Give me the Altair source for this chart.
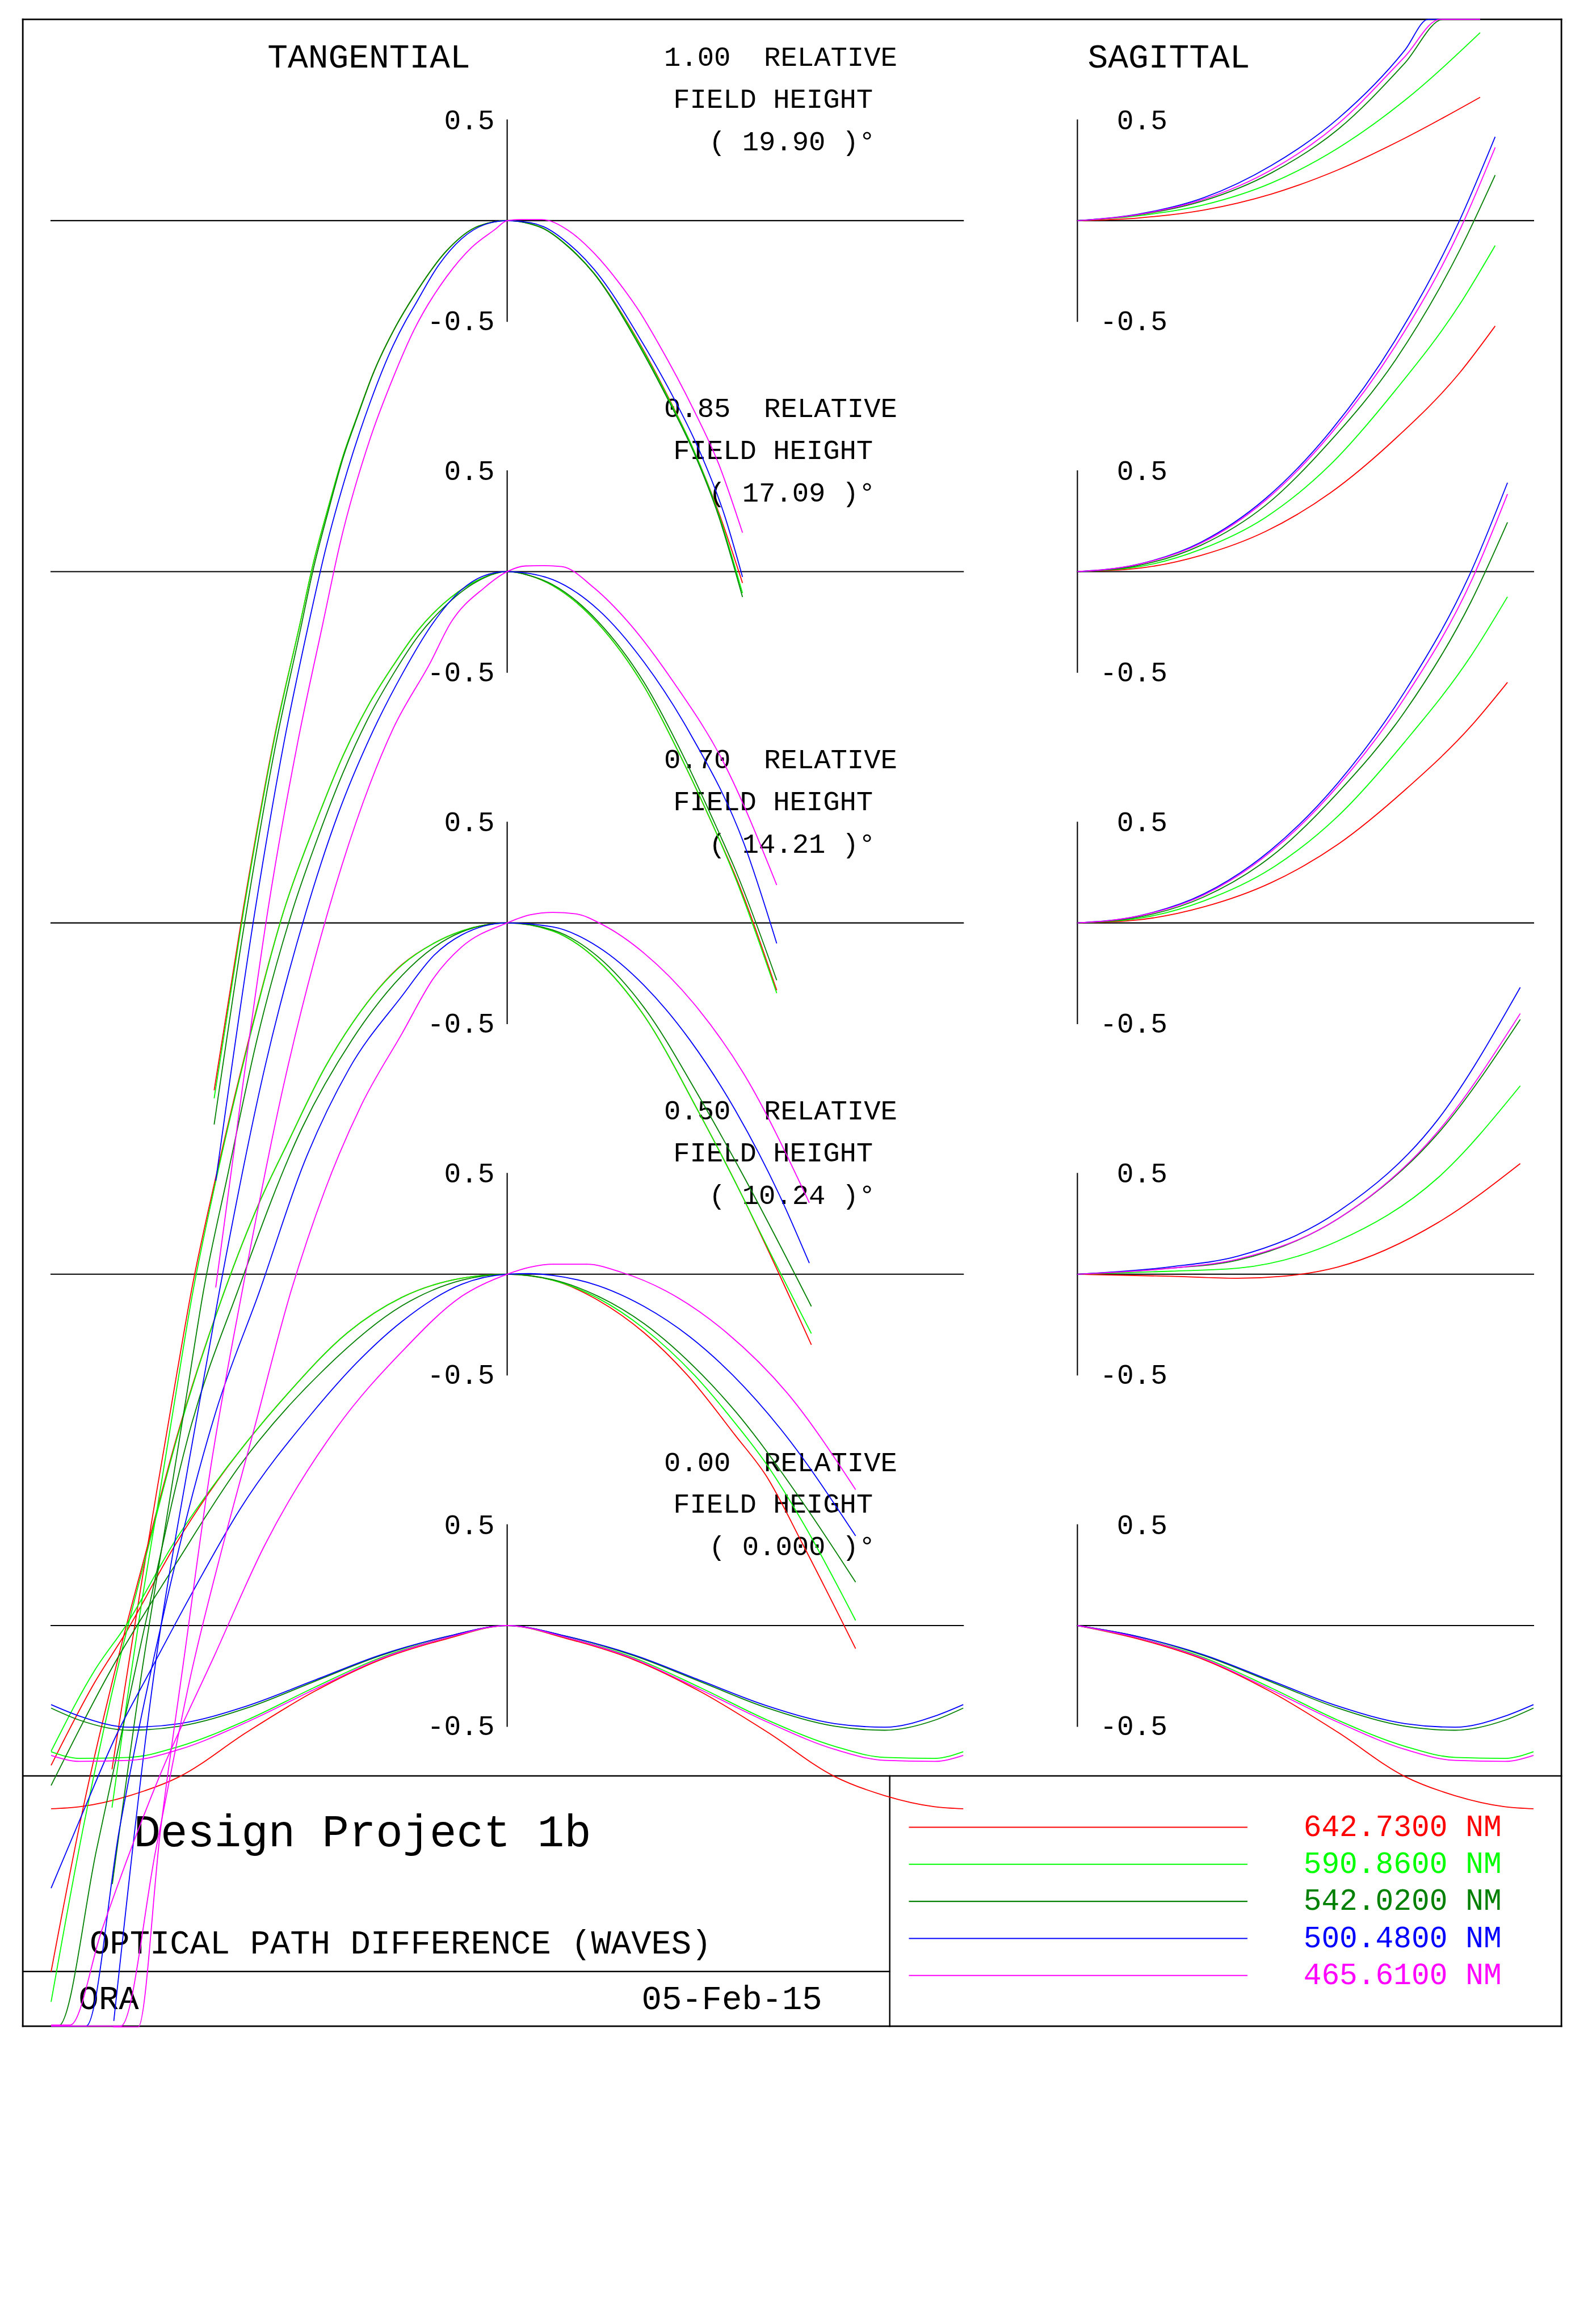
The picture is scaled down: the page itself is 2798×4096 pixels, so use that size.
import altair as alt
import pandas as pd

# ---------------- text content ----------------
TITLE_TAN = "TANGENTIAL"
TITLE_SAG = "SAGITTAL"
FIELD_REL = ["1.00", "0.85", "0.70", "0.50", "0.00"]
FIELD_ANG = ["19.90", "17.09", "14.21", "10.24", "0.000"]
TICK_TEXT = ["0.5", "-0.5"]
TICK_VALUES = [0.5, -0.5]
WAVES = ["642.7300 NM", "590.8600 NM", "542.0200 NM", "500.4800 NM", "465.6100 NM"]
COLORS = ["#ff0000", "#00ff00", "#008000", "#0000ff", "#ff00ff"]
PROJECT = "Design Project 1b"
QUANTITY = "OPTICAL PATH DIFFERENCE (WAVES)"
AUTHOR = "ORA"
DATE = "05-Feb-15"

# ---------------- OPD curves: (relative pupil, waves) ----------------
# field 1.00 tangential
T1_RED = [(-0.6425,-4.32),(-0.578,-3.41),(-0.509,-2.55),(-0.454,-2.0),(-0.426,-1.71),(-0.393,-1.43),(-0.36,-1.17),(-0.327,-0.96),(-0.294,-0.76),(-0.243,-0.52),(-0.204,-0.372),(-0.133,-0.15),(-0.063,-0.027),(0,0),(0.05,-0.015),(0.08,-0.039),(0.135,-0.13),(0.19,-0.26),(0.283,-0.58),(0.354,-0.88),(0.409,-1.14),(0.464,-1.45),(0.516,-1.80)]
T1_GRN = [(-0.6425,-4.36),(-0.578,-3.43),(-0.509,-2.56),(-0.454,-2.0),(-0.426,-1.71),(-0.393,-1.43),(-0.36,-1.17),(-0.327,-0.96),(-0.294,-0.76),(-0.243,-0.52),(-0.204,-0.372),(-0.133,-0.15),(-0.063,-0.027),(0,0),(0.05,-0.015),(0.08,-0.039),(0.135,-0.13),(0.19,-0.26),(0.283,-0.585),(0.354,-0.885),(0.409,-1.14),(0.464,-1.46),(0.516,-1.85)]
T1_DKG = [(-0.6425,-4.49),(-0.578,-3.52),(-0.509,-2.62),(-0.454,-2.04),(-0.426,-1.74),(-0.393,-1.45),(-0.36,-1.18),(-0.327,-0.965),(-0.294,-0.76),(-0.243,-0.52),(-0.204,-0.372),(-0.133,-0.15),(-0.063,-0.027),(0,0),(0.05,-0.016),(0.08,-0.04),(0.135,-0.132),(0.19,-0.262),(0.283,-0.595),(0.354,-0.895),(0.409,-1.15),(0.464,-1.47),(0.516,-1.87)]
T1_BLU = [(-0.639,-4.77),(-0.553,-3.43),(-0.49,-2.6),(-0.435,-2.0),(-0.4,-1.65),(-0.35,-1.24),(-0.3,-0.9),(-0.25,-0.62),(-0.223,-0.5),(-0.204,-0.426),(-0.15,-0.22),(-0.1,-0.09),(-0.05,-0.02),(0,0),(0.05,-0.01),(0.08,-0.03),(0.135,-0.115),(0.19,-0.24),(0.295,-0.60),(0.366,-0.885),(0.421,-1.14),(0.476,-1.46),(0.516,-1.77)]
T1_MAG = [(-0.639,-5.30),(-0.58,-4.3),(-0.525,-3.43),(-0.46,-2.6),(-0.404,-2.0),(-0.366,-1.6),(-0.3,-1.08),(-0.25,-0.78),(-0.204,-0.542),(-0.133,-0.279),(-0.077,-0.131),(-0.0275,-0.045),(0,0),(0.03,0.006),(0.075,0.006),(0.135,-0.05),(0.19,-0.16),(0.248,-0.317),(0.291,-0.455),(0.329,-0.60),(0.409,-0.94),(0.464,-1.21),(0.516,-1.55)]
# field 0.85 tangential
T2_RED = [(-0.8665,-5.95),(-0.833,-5.47),(-0.8,-5.0),(-0.767,-4.55),(-0.724,-3.98),(-0.6925,-3.575),(-0.639,-3.01),(-0.565,-2.31),(-0.4905,-1.69),(-0.415,-1.22),(-0.36,-0.915),(-0.305,-0.667),(-0.25,-0.467),(-0.195,-0.29),(-0.14,-0.16),(-0.0743,-0.054),(0,0),(0.05,-0.02),(0.1,-0.07),(0.198,-0.255),(0.3,-0.57),(0.385,-0.94),(0.459,-1.3),(0.5,-1.51),(0.591,-2.08)]
T2_GRN = [(-0.8665,-6.14),(-0.833,-5.6),(-0.8,-5.1),(-0.767,-4.65),(-0.724,-4.05),(-0.6925,-3.62),(-0.639,-3.03),(-0.565,-2.32),(-0.4905,-1.69),(-0.415,-1.22),(-0.36,-0.915),(-0.305,-0.667),(-0.25,-0.467),(-0.195,-0.29),(-0.14,-0.16),(-0.0743,-0.054),(0,0),(0.05,-0.02),(0.1,-0.07),(0.198,-0.255),(0.3,-0.57),(0.385,-0.94),(0.459,-1.3),(0.5,-1.52),(0.591,-2.094)]
T2_DKG = [(-0.8658,-6.52),(-0.8,-5.45),(-0.75,-4.75),(-0.7,-4.05),(-0.666,-3.575),(-0.613,-3.0),(-0.547,-2.31),(-0.4717,-1.69),(-0.415,-1.32),(-0.36,-1.0),(-0.305,-0.73),(-0.25,-0.51),(-0.195,-0.32),(-0.14,-0.18),(-0.0743,-0.06),(0,0),(0.05,-0.02),(0.1,-0.065),(0.198,-0.245),(0.3,-0.55),(0.385,-0.91),(0.459,-1.27),(0.5,-1.48),(0.591,-2.03)]
T2_BLU = [(-0.8625,-7.20),(-0.769,-5.39),(-0.7,-4.45),(-0.631,-3.575),(-0.53,-2.45),(-0.441,-1.69),(-0.37,-1.2),(-0.3,-0.82),(-0.228,-0.50),(-0.1625,-0.255),(-0.1,-0.09),(-0.05,-0.02),(0,0),(0.05,-0.01),(0.1,-0.04),(0.2,-0.19),(0.3,-0.45),(0.4,-0.8),(0.519,-1.35),(0.591,-1.847)]
T2_MAG = [(-0.864,-7.23),(-0.809,-7.23),(-0.76,-6.25),(-0.708,-5.39),(-0.65,-4.45),(-0.581,-3.575),(-0.49,-2.55),(-0.393,-1.69),(-0.3,-1.05),(-0.25,-0.78),(-0.168,-0.45),(-0.124,-0.255),(-0.05,-0.08),(0,0),(0.04,0.028),(0.08,0.03),(0.12,0.025),(0.19,-0.08),(0.267,-0.255),(0.365,-0.55),(0.475,-0.95),(0.591,-1.557)]
# field 0.70 tangential
T3_RED = [(-1.0,-5.21),(-0.93,-4.4),(-0.8517,-3.64),(-0.788,-3.09),(-0.724,-2.55),(-0.62,-1.83),(-0.543,-1.387),(-0.48,-1.087),(-0.40,-0.72),(-0.34,-0.5),(-0.231,-0.2075),(-0.16,-0.1),(-0.1,-0.04),(0,0),(0.1,-0.04),(0.2,-0.19),(0.3,-0.46),(0.42,-0.94),(0.514,-1.35),(0.577,-1.65),(0.667,-2.096)]
T3_GRN = [(-1.0,-5.36),(-0.93,-4.5),(-0.8517,-3.68),(-0.788,-3.11),(-0.724,-2.56),(-0.62,-1.83),(-0.543,-1.387),(-0.48,-1.087),(-0.40,-0.72),(-0.34,-0.5),(-0.231,-0.21),(-0.16,-0.1),(-0.1,-0.04),(0,0),(0.1,-0.04),(0.2,-0.19),(0.3,-0.46),(0.42,-0.94),(0.514,-1.35),(0.577,-1.64),(0.667,-2.04)]
T3_DKG = [(-1.0,-5.48),(-0.984,-5.48),(-0.9,-4.6),(-0.8,-3.55),(-0.692,-2.49),(-0.591,-1.83),(-0.45,-1.02),(-0.34,-0.58),(-0.231,-0.262),(-0.16,-0.12),(-0.1,-0.045),(0,0),(0.1,-0.035),(0.2,-0.17),(0.3,-0.42),(0.42,-0.86),(0.514,-1.24),(0.667,-1.905)]
T3_BLU = [(-1.0,-5.48),(-0.923,-5.48),(-0.85,-4.5),(-0.75,-3.4),(-0.639,-2.43),(-0.543,-1.83),(-0.445,-1.19),(-0.3467,-0.725),(-0.231,-0.364),(-0.16,-0.16),(-0.1,-0.06),(0,0),(0.1,-0.02),(0.2,-0.12),(0.3,-0.31),(0.4,-0.58),(0.5,-0.93),(0.5966,-1.35),(0.6625,-1.69)]
T3_MAG = [(-1.0,-5.48),(-0.847,-5.48),(-0.77,-4.6),(-0.692,-3.72),(-0.623,-3.09),(-0.559,-2.55),(-0.474,-1.83),(-0.4,-1.33),(-0.32,-0.906),(-0.231,-0.551),(-0.16,-0.27),(-0.1,-0.12),(0,0),(0.05,0.04),(0.1,0.052),(0.15,0.045),(0.21,-0.01),(0.3,-0.15),(0.409,-0.40),(0.519,-0.75),(0.6625,-1.39)]
# field 0.50 tangential
T4_RED = [(-1.0,-2.44),(-0.905,-2.03),(-0.836,-1.78),(-0.724,-1.33),(-0.655,-1.09),(-0.48,-0.59),(-0.35,-0.29),(-0.231,-0.115),(-0.1,-0.02),(0,0),(0.1,-0.03),(0.2,-0.13),(0.3,-0.29),(0.3946,-0.5),(0.5,-0.8),(0.5675,-1.0),(0.65,-1.35),(0.764,-1.86)]
T4_GRN = [(-1.0,-2.37),(-0.905,-1.97),(-0.836,-1.745),(-0.724,-1.31),(-0.655,-1.083),(-0.48,-0.59),(-0.35,-0.29),(-0.231,-0.115),(-0.1,-0.02),(0,0),(0.1,-0.03),(0.2,-0.12),(0.3,-0.27),(0.41,-0.5),(0.5,-0.74),(0.5675,-0.94),(0.65,-1.24),(0.764,-1.72)]
T4_DKG = [(-1.0,-2.54),(-0.87,-1.97),(-0.724,-1.43),(-0.586,-0.95),(-0.4,-0.47),(-0.231,-0.157),(-0.1,-0.03),(0,0),(0.1,-0.027),(0.2,-0.11),(0.3,-0.245),(0.4275,-0.5),(0.5,-0.68),(0.65,-1.14),(0.764,-1.53)]
T4_BLU = [(-1.0,-3.05),(-0.937,-2.71),(-0.857,-2.29),(-0.7825,-1.97),(-0.6925,-1.59),(-0.586,-1.168),(-0.4267,-0.687),(-0.33,-0.44),(-0.231,-0.235),(-0.1,-0.05),(0,0),(0.05,0.003),(0.1,-0.006),(0.2,-0.057),(0.3,-0.16),(0.4,-0.31),(0.494,-0.5),(0.6,-0.77),(0.764,-1.30)]
T4_MAG = [(-1.0,-3.73),(-0.958,-3.73),(-0.889,-3.26),(-0.767,-2.52),(-0.639,-1.88),(-0.5325,-1.35),(-0.373,-0.76),(-0.231,-0.385),(-0.1,-0.11),(0,0),(0.05,0.035),(0.1,0.05),(0.175,0.05),(0.25,0.01),(0.348,-0.083),(0.481,-0.29),(0.614,-0.59),(0.764,-1.07)]
# field 0.00 tangential
T5_RED = [(-1.0,-0.91),(-0.9375,-0.90),(-0.828,-0.845),(-0.718,-0.75),(-0.571,-0.53),(-0.425,-0.33),(-0.278,-0.17),(-0.131,-0.065),(0,0),(0.131,-0.065),(0.278,-0.17),(0.425,-0.33),(0.571,-0.53),(0.718,-0.75),(0.828,-0.845),(0.9375,-0.90),(1.0,-0.91)]
T5_GRN = [(-1.0,-0.627),(-0.9375,-0.66),(-0.828,-0.655),(-0.718,-0.60),(-0.571,-0.47),(-0.425,-0.31),(-0.278,-0.16),(-0.131,-0.06),(0,0),(0.131,-0.06),(0.278,-0.16),(0.425,-0.31),(0.571,-0.47),(0.718,-0.60),(0.828,-0.655),(0.9375,-0.66),(1.0,-0.627)]
T5_DKG = [(-1.0,-0.41),(-0.9375,-0.47),(-0.828,-0.52),(-0.718,-0.50),(-0.571,-0.41),(-0.425,-0.28),(-0.278,-0.15),(-0.131,-0.054),(0,0),(0.131,-0.054),(0.278,-0.15),(0.425,-0.28),(0.571,-0.41),(0.718,-0.50),(0.828,-0.52),(0.9375,-0.47),(1.0,-0.41)]
T5_BLU = [(-1.0,-0.393),(-0.9375,-0.45),(-0.828,-0.505),(-0.718,-0.487),(-0.571,-0.40),(-0.425,-0.274),(-0.278,-0.146),(-0.131,-0.054),(0,0),(0.131,-0.054),(0.278,-0.146),(0.425,-0.274),(0.571,-0.40),(0.718,-0.487),(0.828,-0.505),(0.9375,-0.45),(1.0,-0.393)]
T5_MAG = [(-1.0,-0.645),(-0.9375,-0.675),(-0.828,-0.67),(-0.718,-0.615),(-0.571,-0.48),(-0.425,-0.32),(-0.278,-0.165),(-0.131,-0.06),(0,0),(0.131,-0.06),(0.278,-0.165),(0.425,-0.32),(0.571,-0.48),(0.718,-0.615),(0.828,-0.67),(0.9375,-0.675),(1.0,-0.645)]

# sagittal
S1_RED = [(0,0),(0.132,0.013),(0.278,0.053),(0.425,0.132),(0.571,0.252),(0.718,0.41),(0.883,0.613)]
S1_GRN = [(0,0),(0.132,0.024),(0.278,0.079),(0.425,0.187),(0.571,0.36),(0.718,0.598),(0.883,0.934)]
S1_DKG = [(0,0),(0.132,0.028),(0.278,0.10),(0.425,0.237),(0.571,0.453),(0.718,0.783),(0.802,1.0),(0.883,1.0)]
S1_BLU = [(0,0),(0.132,0.032),(0.278,0.115),(0.425,0.274),(0.571,0.506),(0.718,0.847),(0.769,1.0),(0.883,1.0)]
S1_MAG = [(0,0),(0.132,0.03),(0.278,0.107),(0.425,0.252),(0.571,0.48),(0.718,0.815),(0.795,1.0),(0.883,1.0)]
S2_RED = [(0,0),(0.128,0.015),(0.27,0.08),(0.413,0.2),(0.554,0.39),(0.697,0.66),(0.839,0.99),(0.916,1.22)]
S2_GRN = [(0,0),(0.128,0.022),(0.27,0.11),(0.413,0.27),(0.554,0.53),(0.697,0.9),(0.839,1.33),(0.916,1.62)]
S2_DKG = [(0,0),(0.128,0.028),(0.27,0.13),(0.413,0.33),(0.554,0.647),(0.697,1.05),(0.839,1.6),(0.916,1.97)]
S2_BLU = [(0,0),(0.128,0.034),(0.27,0.145),(0.413,0.364),(0.554,0.695),(0.697,1.15),(0.839,1.75),(0.916,2.16)]
S2_MAG = [(0,0),(0.128,0.033),(0.27,0.14),(0.413,0.355),(0.554,0.68),(0.697,1.12),(0.839,1.7),(0.916,2.107)]
S3_RED = [(0,0),(0.132,0.015),(0.278,0.08),(0.425,0.2),(0.571,0.39),(0.718,0.66),(0.864,0.98),(0.943,1.195)]
S3_GRN = [(0,0),(0.132,0.022),(0.278,0.11),(0.425,0.27),(0.571,0.53),(0.718,0.9),(0.864,1.33),(0.943,1.62)]
S3_DKG = [(0,0),(0.132,0.028),(0.278,0.13),(0.425,0.33),(0.571,0.647),(0.718,1.05),(0.864,1.6),(0.943,1.99)]
S3_BLU = [(0,0),(0.132,0.034),(0.278,0.145),(0.425,0.364),(0.571,0.695),(0.718,1.15),(0.864,1.75),(0.943,2.187)]
S3_MAG = [(0,0),(0.132,0.033),(0.278,0.14),(0.425,0.355),(0.571,0.68),(0.718,1.12),(0.864,1.7),(0.943,2.13)]
S4_RED = [(0,0),(0.205,-0.01),(0.352,-0.02),(0.45,-0.01),(0.571,0.036),(0.791,0.257),(0.971,0.55)]
S4_GRN = [(0,0),(0.205,0.015),(0.352,0.03),(0.571,0.165),(0.791,0.48),(0.971,0.936)]
S4_DKG = [(0,0),(0.205,0.03),(0.352,0.07),(0.571,0.275),(0.791,0.70),(0.971,1.266)]
S4_BLU = [(0,0),(0.205,0.037),(0.352,0.09),(0.571,0.31),(0.791,0.77),(0.971,1.425)]
S4_MAG = [(0,0),(0.205,0.03),(0.352,0.075),(0.571,0.275),(0.791,0.71),(0.971,1.295)]
S5_RED = [(0,0),(0.131,-0.065),(0.278,-0.17),(0.425,-0.33),(0.571,-0.53),(0.718,-0.75),(0.828,-0.845),(0.9375,-0.90),(1.0,-0.91)]
S5_GRN = [(0,0),(0.131,-0.06),(0.278,-0.16),(0.425,-0.31),(0.571,-0.47),(0.718,-0.60),(0.828,-0.655),(0.9375,-0.66),(1.0,-0.627)]
S5_DKG = [(0,0),(0.131,-0.054),(0.278,-0.15),(0.425,-0.28),(0.571,-0.41),(0.718,-0.50),(0.828,-0.52),(0.9375,-0.47),(1.0,-0.41)]
S5_BLU = [(0,0),(0.131,-0.054),(0.278,-0.146),(0.425,-0.274),(0.571,-0.40),(0.718,-0.487),(0.828,-0.505),(0.9375,-0.45),(1.0,-0.393)]
S5_MAG = [(0,0),(0.131,-0.06),(0.278,-0.165),(0.425,-0.32),(0.571,-0.48),(0.718,-0.615),(0.828,-0.67),(0.9375,-0.675),(1.0,-0.645)]

TAN = [[T1_RED, T1_GRN, T1_DKG, T1_BLU, T1_MAG],
       [T2_RED, T2_GRN, T2_DKG, T2_BLU, T2_MAG],
       [T3_RED, T3_GRN, T3_DKG, T3_BLU, T3_MAG],
       [T4_RED, T4_GRN, T4_DKG, T4_BLU, T4_MAG],
       [T5_RED, T5_GRN, T5_DKG, T5_BLU, T5_MAG]]
SAG = [[S1_RED, S1_GRN, S1_DKG, S1_BLU, S1_MAG],
       [S2_RED, S2_GRN, S2_DKG, S2_BLU, S2_MAG],
       [S3_RED, S3_GRN, S3_DKG, S3_BLU, S3_MAG],
       [S4_RED, S4_GRN, S4_DKG, S4_BLU, S4_MAG],
       [S5_RED, S5_GRN, S5_DKG, S5_BLU, S5_MAG]]

# ---------------- layout (reference page units) ----------------
PAGE_W, PAGE_H = 4180, 6119
OUT_W, OUT_H = 2798, 4096
K = OUT_W / PAGE_W
ROW0 = [581, 1505, 2430, 3355, 4280]
WAVE_PX = 530.0
PUPIL_PX = 1200.5
TAN_C = 1335.0
SAG_C = 2836.0
FRAME = (60, 51, 4110, 5335)
SEP_Y, SUB_Y, DIV_X = 4676, 5191, 2342
NB = "\u00a0"


def fs(v):
    return round(v * K, 1)


# curves
rows = []
for r in range(5):
    for c in range(5):
        for side, table, cx in (("T", TAN, TAN_C), ("S", SAG, SAG_C)):
            for i, (p, w) in enumerate(table[r][c]):
                rows.append({"key": f"{side}{r}{c}", "c": c, "i": i,
                             "X": cx + PUPIL_PX * p, "Y": ROW0[r] - WAVE_PX * w})
curves = pd.DataFrame(rows)

# rules (frame, axes, legend samples)
segs = []
x0, y0, x1, y1 = FRAME
for a in [(x0, y0, x1, y0), (x0, y1, x1, y1), (x0, y0, x0, y1), (x1, y0, x1, y1)]:
    segs.append(dict(X=a[0], Y=a[1], X2=a[2], Y2=a[3], sw=fs(4.2), col="black"))
for a in [(x0, SEP_Y, x1, SEP_Y), (x0, SUB_Y, DIV_X, SUB_Y), (DIV_X, SEP_Y, DIV_X, y1)]:
    segs.append(dict(X=a[0], Y=a[1], X2=a[2], Y2=a[3], sw=fs(3.6), col="black"))
for z in ROW0:
    half = WAVE_PX * 0.5
    segs.append(dict(X=TAN_C - PUPIL_PX, Y=z, X2=TAN_C + PUPIL_PX, Y2=z, sw=fs(3.2), col="black"))
    segs.append(dict(X=TAN_C, Y=z - half, X2=TAN_C, Y2=z + half, sw=fs(3.2), col="black"))
    segs.append(dict(X=SAG_C, Y=z, X2=SAG_C + PUPIL_PX, Y2=z, sw=fs(3.2), col="black"))
    segs.append(dict(X=SAG_C, Y=z - half, X2=SAG_C, Y2=z + half, sw=fs(3.2), col="black"))
for i, col in enumerate(COLORS):
    yy = 4811 + 97.6 * i
    segs.append(dict(X=2394, Y=yy, X2=3282, Y2=yy, sw=fs(3.2), col=col))
segdf = pd.DataFrame(segs)

# texts
FONT = "Liberation Mono"
left_txt = []
right_txt = []
left_txt.append(dict(t=TITLE_TAN, X=704, Y=178, s=fs(89), col="black"))
left_txt.append(dict(t=TITLE_SAG, X=2863, Y=178, s=fs(89), col="black"))
for r in range(5):
    z = ROW0[r]
    left_txt.append(dict(t=f"{FIELD_REL[r]}{NB}{NB}RELATIVE", X=1748, Y=z - 407, s=fs(73), col="black"))
    left_txt.append(dict(t="FIELD HEIGHT", X=1772, Y=z - 297, s=fs(73), col="black"))
    left_txt.append(dict(t=f"({NB}{FIELD_ANG[r]}{NB})\u00b0", X=1866, Y=z - 185, s=fs(73), col="black"))
    for tv, tt in zip(TICK_VALUES, TICK_TEXT):
        ty = z - WAVE_PX * tv + 24
        right_txt.append(dict(t=tt, X=TAN_C - 33, Y=ty, s=fs(74), col="black"))
        right_txt.append(dict(t=tt, X=SAG_C + 237, Y=ty, s=fs(74), col="black"))
left_txt.append(dict(t=PROJECT, X=352, Y=4861, s=fs(118), col="black"))
left_txt.append(dict(t=QUANTITY, X=236, Y=5144, s=fs(88), col="black"))
left_txt.append(dict(t=AUTHOR, X=207, Y=5290, s=fs(88), col="black"))
left_txt.append(dict(t=DATE, X=1689, Y=5290, s=fs(88), col="black"))
for i, (wl, col) in enumerate(zip(WAVES, COLORS)):
    left_txt.append(dict(t=wl, X=3431, Y=4834 + 97.6 * i, s=fs(79), col=col))
ltdf = pd.DataFrame(left_txt)
rtdf = pd.DataFrame(right_txt)

xs = alt.Scale(domain=[0, PAGE_W], nice=False, zero=False)
ys = alt.Scale(domain=[0, PAGE_H], nice=False, zero=False, reverse=True)
X = alt.X("X:Q", scale=xs, axis=None)
Y = alt.Y("Y:Q", scale=ys, axis=None)

rules = alt.Chart(segdf).mark_rule(strokeCap="square").encode(
    x=X, y=Y, x2="X2:Q", y2="Y2:Q",
    color=alt.Color("col:N", scale=None),
    size=alt.Size("sw:Q", scale=None),
)

ltext = alt.Chart(ltdf).mark_text(align="left", baseline="alphabetic", font=FONT).encode(
    x=X, y=Y, text="t:N", color=alt.Color("col:N", scale=None), size=alt.Size("s:Q", scale=None)
)
rtext = alt.Chart(rtdf).mark_text(align="right", baseline="alphabetic", font=FONT).encode(
    x=X, y=Y, text="t:N", color=alt.Color("col:N", scale=None), size=alt.Size("s:Q", scale=None)
)

layers = [rules, ltext, rtext]
for c, col in enumerate(COLORS):
    sub = curves[curves["c"] == c]
    layers.append(
        alt.Chart(sub).mark_line(color=col, strokeWidth=fs(2.7), interpolate="monotone").encode(
            x=X, y=Y, detail="key:N", order="i:Q"
        )
    )

chart = alt.layer(*layers).properties(
    width=OUT_W, height=OUT_H, padding=0, autosize=alt.AutoSizeParams(type="none"),
    background="white"
).configure_view(stroke=None)

chart.save("out.html", embed_options={"renderer": "svg", "actions": False})
